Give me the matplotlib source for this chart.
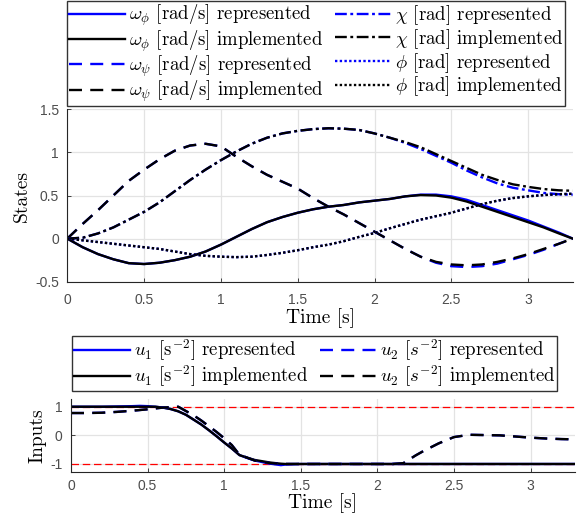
import matplotlib
matplotlib.use("Agg")
import matplotlib.pyplot as plt

plt.rcParams['mathtext.fontset'] = 'cm'
plt.rcParams['axes.unicode_minus'] = False

# ---------------- data: states ----------------
t_states = [0, 0.1, 0.2, 0.3, 0.4, 0.5, 0.6, 0.7, 0.8, 0.9, 1.0, 1.1, 1.2, 1.3, 1.4,
            1.5, 1.6, 1.7, 1.8, 1.9, 2.0, 2.1, 2.2, 2.3, 2.4, 2.5, 2.6, 2.7, 2.8,
            2.9, 3.0, 3.1, 3.2, 3.29]

w_phi_impl = [0, -0.10, -0.18, -0.24, -0.285, -0.295, -0.28, -0.25, -0.21, -0.15,
              -0.07, 0.02, 0.11, 0.19, 0.25, 0.30, 0.34, 0.37, 0.39, 0.42, 0.44,
              0.46, 0.49, 0.505, 0.50, 0.475, 0.43, 0.37, 0.31, 0.25, 0.19, 0.13,
              0.06, 0.0]
w_phi_rep = [0, -0.10, -0.18, -0.24, -0.285, -0.295, -0.28, -0.25, -0.21, -0.15,
             -0.07, 0.02, 0.11, 0.19, 0.25, 0.30, 0.34, 0.37, 0.39, 0.42, 0.44,
             0.46, 0.49, 0.51, 0.51, 0.49, 0.45, 0.39, 0.33, 0.27, 0.21, 0.14,
             0.07, 0.0]

w_psi_impl = [0, 0.17, 0.33, 0.50, 0.67, 0.80, 0.92, 1.02, 1.08, 1.10, 1.07, 0.95,
              0.84, 0.74, 0.66, 0.58, 0.47, 0.37, 0.28, 0.18, 0.08, -0.02, -0.12,
              -0.21, -0.27, -0.30, -0.31, -0.30, -0.27, -0.23, -0.18, -0.12, -0.06, 0.0]
w_psi_rep = [0, 0.17, 0.33, 0.50, 0.67, 0.80, 0.92, 1.02, 1.08, 1.10, 1.07, 0.95,
             0.84, 0.74, 0.66, 0.58, 0.47, 0.37, 0.28, 0.18, 0.08, -0.02, -0.12,
             -0.21, -0.28, -0.32, -0.33, -0.32, -0.29, -0.24, -0.19, -0.13, -0.06, 0.0]

chi_impl = [0, 0.01, 0.06, 0.13, 0.22, 0.31, 0.42, 0.55, 0.68, 0.80, 0.91, 1.01,
            1.10, 1.17, 1.22, 1.25, 1.27, 1.28, 1.275, 1.26, 1.22, 1.17, 1.12, 1.06,
            0.98, 0.90, 0.82, 0.74, 0.68, 0.63, 0.60, 0.575, 0.56, 0.555]
chi_rep = [0, 0.01, 0.06, 0.13, 0.22, 0.31, 0.42, 0.55, 0.68, 0.80, 0.91, 1.01,
           1.10, 1.17, 1.22, 1.25, 1.27, 1.28, 1.275, 1.26, 1.22, 1.17, 1.11, 1.04,
           0.96, 0.88, 0.79, 0.71, 0.64, 0.59, 0.56, 0.53, 0.515, 0.51]

phi_impl = [0, -0.02, -0.04, -0.06, -0.08, -0.10, -0.12, -0.15, -0.18, -0.20, -0.21,
            -0.215, -0.21, -0.19, -0.165, -0.135, -0.10, -0.07, -0.03, 0.02, 0.065,
            0.12, 0.17, 0.22, 0.26, 0.30, 0.35, 0.40, 0.44, 0.47, 0.49, 0.505, 0.515, 0.52]
phi_rep = list(phi_impl)

# ---------------- data: inputs ----------------
t_u1 = [0, 0.2, 0.4, 0.45, 0.5, 0.55, 0.6, 0.65, 0.7, 0.75, 0.8, 0.85, 0.9, 0.95,
        1.0, 1.05, 1.1, 1.15, 1.2, 1.3, 1.37, 1.4, 1.5, 2.0, 2.5, 3.0, 3.29]
u1_impl = [1.0, 1.0, 1.0, 1.0, 1.0, 1.0, 0.97, 0.92, 0.84, 0.72, 0.55, 0.38, 0.18,
           -0.03, -0.25, -0.46, -0.69, -0.78, -0.86, -0.95, -0.99, -1.0, -1.0, -1.0,
           -1.0, -1.0, -1.0]
u1_rep = [1.0, 1.0, 1.02, 1.03, 1.02, 1.0, 0.97, 0.92, 0.84, 0.72, 0.55, 0.38, 0.18,
          -0.03, -0.25, -0.46, -0.69, -0.79, -0.88, -0.99, -1.04, -1.02, -1.0, -1.0,
          -1.0, -1.0, -1.0]

t_u2 = [0, 0.1, 0.2, 0.3, 0.4, 0.5, 0.6, 0.7, 0.75, 0.8, 0.85, 0.9, 0.95, 1.0, 1.05,
        1.1, 1.2, 1.3, 1.4, 1.6, 1.8, 2.0, 2.1, 2.17, 2.25, 2.3, 2.4, 2.5, 2.6, 2.7,
        2.8, 2.9, 3.0, 3.1, 3.2, 3.29]
u2_impl = [0.78, 0.78, 0.79, 0.82, 0.86, 0.91, 0.97, 1.0, 0.85, 0.70, 0.52, 0.32,
           0.12, -0.10, -0.34, -0.68, -0.88, -0.97, -1.0, -1.0, -1.0, -1.0, -1.0,
           -0.97, -0.70, -0.55, -0.28, -0.06, 0.02, 0.01, 0.0, -0.04, -0.08, -0.11,
           -0.13, -0.14]
u2_rep = list(u2_impl)

u_bounds = [1, -1]

x_ticks = [0, 0.5, 1, 1.5, 2, 2.5, 3]
x_tick_labels = ['0', '0.5', '1', '1.5', '2', '2.5', '3']
y_ticks_states = [-0.5, 0, 0.5, 1, 1.5]
y_tick_labels_states = ['-0.5', '0', '0.5', '1', '1.5']
y_ticks_inputs = [-1, 0, 1]
y_tick_labels_inputs = ['-1', '0', '1']

# ---------------- figure ----------------
W, H = 584, 517
fig = plt.figure(figsize=(W / 100, H / 100), dpi=100)

serif = 'cmr10'
lab_fs = 14
leg_fs = 13.5
tick_fs = 10
tick_col = '#4d4d4d'
BLUE = '#0000ff'
BLACK = '#000000'
lw = 1.7


def style_axes(ax, yticks, ylabels, xpad):
    ax.set_xticks(x_ticks)
    ax.set_xticklabels(x_tick_labels)
    ax.set_yticks(yticks)
    ax.set_yticklabels(ylabels)
    ax.grid(True, color='#e3e3e3', linewidth=0.9)
    ax.set_axisbelow(True)
    for s in ['top', 'right']:
        ax.spines[s].set_visible(False)
    for s in ['left', 'bottom']:
        ax.spines[s].set_color('#262626')
        ax.spines[s].set_linewidth(0.8)
    ax.tick_params(direction='in', length=3, width=0.6, colors='#262626',
                   labelsize=tick_fs, labelcolor=tick_col)
    ax.tick_params(axis='x', pad=xpad)
    ax.tick_params(axis='y', pad=6)
    for lbl in ax.get_xticklabels() + ax.get_yticklabels():
        lbl.set_family('Liberation Sans')


leg_kw = dict(prop={'family': serif, 'size': leg_fs}, frameon=True,
              fancybox=False, edgecolor='black', handlelength=3.0,
              handletextpad=0.2, columnspacing=0.6, labelspacing=0.0,
              borderpad=0.1, borderaxespad=0)

# top axes
ax1 = fig.add_axes([67.3 / W, 1 - 281.7 / H, 505.4 / W, 172.4 / H])
l1, = ax1.plot(t_states, w_phi_rep, color=BLUE, lw=lw, ls='-')
l2, = ax1.plot(t_states, w_phi_impl, color=BLACK, lw=lw, ls='-')
l3, = ax1.plot(t_states, w_psi_rep, color=BLUE, lw=lw, ls=(0, (5.5, 3.5)))
l4, = ax1.plot(t_states, w_psi_impl, color=BLACK, lw=lw, ls=(0, (5.5, 3.5)))
l5, = ax1.plot(t_states, chi_rep, color=BLUE, lw=lw, ls=(0, (5, 1.5, 1.2, 1.5)))
l6, = ax1.plot(t_states, chi_impl, color=BLACK, lw=lw, ls=(0, (5, 1.5, 1.2, 1.5)))
l7, = ax1.plot(t_states, phi_rep, color=BLUE, lw=lw, ls=(0, (1, 1)))
l8, = ax1.plot(t_states, phi_impl, color=BLACK, lw=lw, ls=(0, (1, 1)))
ax1.set_xlim(0, 3.29)
ax1.set_ylim(-0.5, 1.5)
style_axes(ax1, y_ticks_states, y_tick_labels_states, xpad=8)
ax1.set_xlabel('Time [s]', fontsize=lab_fs, family=serif, labelpad=1)
ax1.set_ylabel('States', fontsize=lab_fs, family=serif, labelpad=3)

labels_top = [r'$\omega_\phi$ [rad/s] represented', r'$\omega_\phi$ [rad/s] implemented',
              r'$\omega_\psi$ [rad/s] represented', r'$\omega_\psi$ [rad/s] implemented',
              r'$\chi$ [rad] represented', r'$\chi$ [rad] implemented',
              r'$\phi$ [rad] represented', r'$\phi$ [rad] implemented']
leg1 = fig.legend([l1, l2, l3, l4, l5, l6, l7, l8], labels_top, ncol=2,
                  loc='upper left', bbox_to_anchor=(67.3 / W, 1 - 1 / H), **leg_kw)
leg1.get_frame().set_linewidth(1.0)

# bottom axes
ax2 = fig.add_axes([71 / W, 1 - 472 / H, 504 / W, 73 / H])
for b in u_bounds:
    ax2.axhline(b, color='#ff0000', lw=0.9, ls=(0, (6, 3)))
m1, = ax2.plot(t_u1, u1_rep, color=BLUE, lw=lw, ls='-')
m2, = ax2.plot(t_u1, u1_impl, color=BLACK, lw=lw, ls='-')
m3, = ax2.plot(t_u2, u2_rep, color=BLUE, lw=lw, ls=(0, (5.5, 3.5)))
m4, = ax2.plot(t_u2, u2_impl, color=BLACK, lw=lw, ls=(0, (5.5, 3.5)))
ax2.set_xlim(0, 3.29)
ax2.set_ylim(-1.28, 1.27)
style_axes(ax2, y_ticks_inputs, y_tick_labels_inputs, xpad=5)
ax2.set_xlabel('Time [s]', fontsize=lab_fs, family=serif, labelpad=0)
ax2.set_ylabel('Inputs', fontsize=lab_fs, family=serif, labelpad=3)

labels_bot = [r'$u_1$ [s$^{-2}$] represented', r'$u_1$ [s$^{-2}$] implemented',
              r'$u_2$ [$s^{-2}$] represented', r'$u_2$ [$s^{-2}$] implemented']
leg2 = fig.legend([m1, m2, m3, m4], labels_bot, ncol=2,
                  loc='upper left', bbox_to_anchor=(72.3 / W, 1 - 335.7 / H), **leg_kw)
leg2.get_frame().set_linewidth(1.0)

fig.savefig('out.png', dpi=100)
